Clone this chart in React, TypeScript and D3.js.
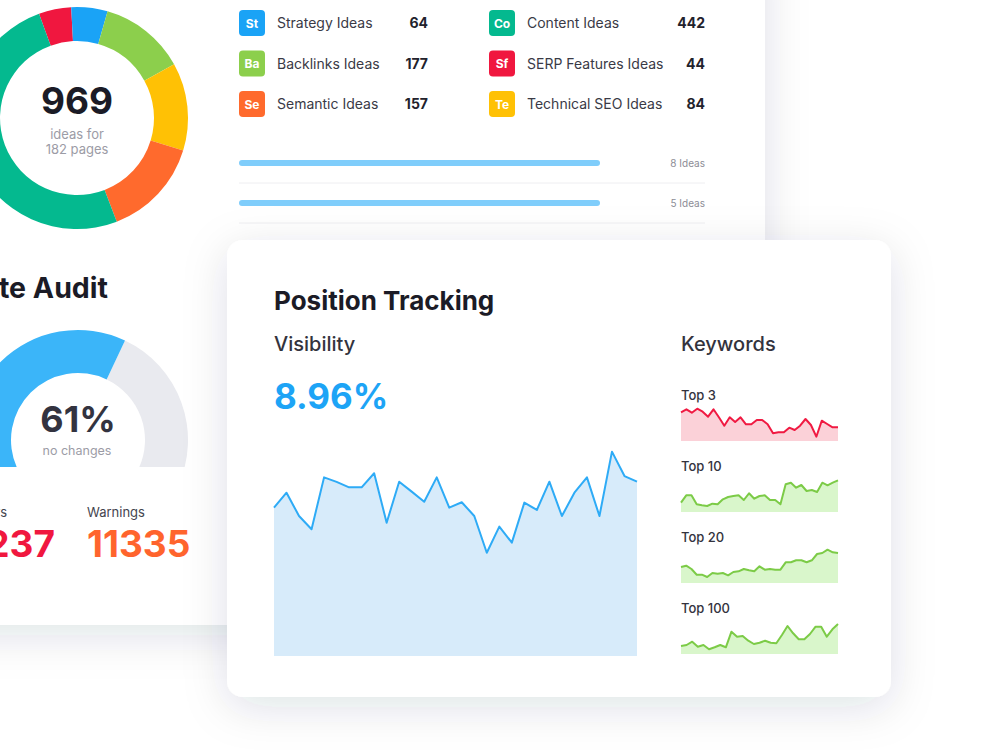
import * as d3 from 'd3';
import { useEffect, useRef } from 'react';

const W = 1000;
const H = 750;
const FONT = 'Inter, "Noto Sans", sans-serif';

// idea categories (legend)
const ideaCodes = ['St', 'Ba', 'Se', 'Co', 'Sf', 'Te'];
const ideaNames = [
  'Strategy Ideas',
  'Backlinks Ideas',
  'Semantic Ideas',
  'Content Ideas',
  'SERP Features Ideas',
  'Technical SEO Ideas',
];
const ideaCounts = [64, 177, 157, 442, 44, 84];
const ideaColors = ['#1aa3f6', '#8ccf4c', '#ff6a2d', '#04b98f', '#f0173f', '#ffc105'];

// donut ring, clockwise from the red slice, shares
const ringCodes = ['Sf', 'St', 'Ba', 'Te', 'Se', 'Co'];
const ringShare = [17, 19, 45, 46, 52, 181];
const totalIdeas = '969';
const totalPages = '182 pages';

// page rows
const barLabels = ['8 Ideas', '5 Ideas'];
const barProgress = [100, 100];

// site audit
const auditScore = 61;
const auditLabels = ['Errors', 'Warnings'];
const auditValues = ['1237', '11335'];
const auditColors = ['#f0173f', '#ff642d'];

// position tracking visibility (%)
const visibilityNow = '8.96%';
const visibility = [
  6.87, 7.56, 6.48, 5.87, 8.27, 8.06, 7.81, 7.81, 8.46, 6.17, 8.07, 7.61, 7.14, 8.27, 6.87,
  7.12, 6.48, 4.78, 5.99, 5.25, 7.1, 6.76, 8.07, 6.48, 7.56, 8.27, 6.48, 9.46, 8.33, 8.07,
];

// keyword sparklines
const topLabels = ['Top 3', 'Top 10', 'Top 20', 'Top 100'];
const top3 = [
  28.7, 31.7, 28.3, 32.3, 29.3, 24.3, 31.7, 23.7, 15.3, 23.7, 19, 23.7, 16.7, 16.7, 21, 21,
  16.7, 7.7, 8.7, 8.7, 13.3, 11, 15.3, 22, 16, 4.3, 20.3, 17, 13.7, 13.7,
];
const top10 = [
  9.3, 16.7, 16.7, 7.7, 6.7, 6, 8.3, 7.7, 12.7, 15, 16, 16.7, 12, 18.7, 13.3, 16, 16.7, 12,
  12, 7.7, 27.7, 29.3, 24.3, 27, 21, 22, 20, 29.3, 26.7, 29.3, 31.7,
];
const top20 = [
  16, 17.3, 14, 8.3, 8.3, 6, 10, 9.3, 10, 7.7, 11, 11.7, 14, 12.7, 11.7, 16.7, 13.3, 14, 13.3,
  13.3, 20.7, 20.7, 22.7, 22.7, 20.7, 22.7, 29, 30, 33.3, 30.7, 30,
];
const top100 = [
  8, 9, 12.3, 7.3, 9, 4.7, 6.7, 9, 6.7, 22.3, 17.3, 18, 13.3, 10, 11.3, 13.3, 11.3, 10.7, 19,
  28, 20.7, 14.7, 14.7, 20, 27.3, 27.3, 17.3, 24.7, 30,
];
const topSeries = [top3, top10, top20, top100];
const topLine = ['#f01a42', '#7ccb47', '#7ccb47', '#7ccb47'];
const topFill = ['#fbd1d8', '#d9f6cb', '#d9f6cb', '#d9f6cb'];

export default function App() {
  const svgRef = useRef<SVGSVGElement>(null);

  useEffect(() => {
    if (!svgRef.current) return;
    const svg = d3.select(svgRef.current);
    svg.selectAll('*').remove();

    svg.append('rect').attr('width', W).attr('height', H).attr('fill', '#ffffff');

    const defs = svg.append('defs');
    const shadow = defs
      .append('filter')
      .attr('id', 'cardShadow')
      .attr('x', '-30%')
      .attr('y', '-30%')
      .attr('width', '160%')
      .attr('height', '160%');
    shadow
      .append('feDropShadow')
      .attr('dx', 0)
      .attr('dy', 10)
      .attr('stdDeviation', 22)
      .attr('flood-color', '#1c2340')
      .attr('flood-opacity', 0.13);

    // back card
    svg
      .append('rect')
      .attr('x', -60)
      .attr('y', -60)
      .attr('width', 825)
      .attr('height', 685)
      .attr('rx', 16)
      .attr('fill', '#fff')
      .attr('filter', 'url(#cardShadow)');

    // ---- donut
    const byCode = new Map(ideaCodes.map((c, i) => [c, ideaColors[i]]));
    const pie = d3
      .pie<number>()
      .sort(null)
      .startAngle((-20 * Math.PI) / 180)
      .endAngle((340 * Math.PI) / 180);
    const arc = d3.arc<d3.PieArcDatum<number>>().innerRadius(77).outerRadius(111);
    const donut = svg.append('g').attr('transform', 'translate(77,118)');
    donut
      .selectAll('path')
      .data(pie(ringShare))
      .join('path')
      .attr('d', arc)
      .attr('fill', (_, i) => byCode.get(ringCodes[i]) as string);
    donut
      .append('text')
      .attr('text-anchor', 'middle')
      .attr('y', -4)
      .style('font', `700 37px ${FONT}`)
      .attr('fill', '#1b1b26')
      .text(totalIdeas);
    donut
      .append('text')
      .attr('text-anchor', 'middle')
      .attr('y', 21)
      .style('font', `400 13px ${FONT}`)
      .attr('fill', '#9c9ca6')
      .text('ideas for');
    donut
      .append('text')
      .attr('text-anchor', 'middle')
      .attr('y', 36)
      .style('font', `400 13px ${FONT}`)
      .attr('fill', '#9c9ca6')
      .text(totalPages);

    // ---- legend grid
    const colX = d3.scaleOrdinal<number, number>().domain([0, 1]).range([239, 489]);
    const rowY = d3.scalePoint<number>().domain([0, 1, 2]).range([23, 104]);
    const legend = svg
      .append('g')
      .selectAll('g')
      .data(ideaCodes)
      .join('g')
      .attr('transform', (_, i) => `translate(${colX(Math.floor(i / 3))},${rowY(i % 3)})`);
    legend
      .append('rect')
      .attr('y', -13)
      .attr('width', 26)
      .attr('height', 26)
      .attr('rx', 4)
      .attr('fill', (_, i) => ideaColors[i]);
    legend
      .append('text')
      .attr('x', 13)
      .attr('y', 4.5)
      .attr('text-anchor', 'middle')
      .style('font', `700 12px ${FONT}`)
      .attr('fill', '#fff')
      .text((d) => d);
    legend
      .append('text')
      .attr('x', 38)
      .attr('y', 5)
      .style('font', `400 14px ${FONT}`)
      .attr('fill', '#3a3a46')
      .text((_, i) => ideaNames[i]);
    legend
      .append('text')
      .attr('x', (_, i) => (i < 3 ? 189 : 216))
      .attr('y', 5)
      .attr('text-anchor', 'end')
      .style('font', `700 14px ${FONT}`)
      .attr('fill', '#22222c')
      .text((_, i) => ideaCounts[i]);

    // ---- idea bars
    const barX = d3.scaleLinear().domain([0, 100]).range([239, 600]);
    const barY = d3.scalePoint<number>().domain([0, 1]).range([163, 203]);
    const bars = svg
      .append('g')
      .selectAll('g')
      .data(barProgress)
      .join('g')
      .attr('transform', (_, i) => `translate(0,${barY(i)})`);
    bars
      .append('line')
      .attr('x1', barX(0) + 3)
      .attr('x2', (d) => barX(d) - 3)
      .attr('stroke', '#7fcdfb')
      .attr('stroke-width', 6)
      .attr('stroke-linecap', 'round');
    bars
      .append('line')
      .attr('x1', 239)
      .attr('x2', 705)
      .attr('y1', 20)
      .attr('y2', 20)
      .attr('stroke', '#eeeef1')
      .attr('stroke-width', 1);
    bars
      .append('text')
      .attr('x', 705)
      .attr('y', 4)
      .attr('text-anchor', 'end')
      .style('font', `400 10px ${FONT}`)
      .attr('fill', '#8c8c96')
      .text((_, i) => barLabels[i]);

    // ---- site audit
    svg
      .append('text')
      .attr('x', 108)
      .attr('y', 298)
      .attr('text-anchor', 'end')
      .style('font', `700 28.5px ${FONT}`)
      .attr('fill', '#1b1b26')
      .text('Site Audit');

    defs
      .append('clipPath')
      .attr('id', 'gaugeClip')
      .append('rect')
      .attr('x', -100)
      .attr('y', 300)
      .attr('width', 400)
      .attr('height', 167);
    const gaugeAngle = d3
      .scaleLinear()
      .domain([0, 100])
      .range([(-115 * Math.PI) / 180, (115 * Math.PI) / 180]);
    const gArc = d3.arc();
    const gauge = svg.append('g').attr('clip-path', 'url(#gaugeClip)');
    const gg = gauge.append('g').attr('transform', 'translate(78,440)');
    gg.append('path')
      .attr(
        'd',
        gArc({ innerRadius: 67, outerRadius: 110, startAngle: gaugeAngle(auditScore), endAngle: gaugeAngle(100) }) as string
      )
      .attr('fill', '#e9eaef');
    gg.append('path')
      .attr(
        'd',
        gArc({ innerRadius: 67, outerRadius: 110, startAngle: gaugeAngle(0), endAngle: gaugeAngle(auditScore) }) as string
      )
      .attr('fill', '#3bb5f9');
    svg
      .append('text')
      .attr('x', 78)
      .attr('y', 432)
      .attr('text-anchor', 'middle')
      .style('font', `700 36px ${FONT}`)
      .attr('fill', '#333340')
      .text(`${auditScore}%`);
    svg
      .append('text')
      .attr('x', 77)
      .attr('y', 455)
      .attr('text-anchor', 'middle')
      .style('font', `400 12.5px ${FONT}`)
      .attr('fill', '#9c9ca6')
      .text('no changes');

    const auditX = [55, 87];
    const auditAnchor = ['end', 'start'];
    auditLabels.forEach((label, i) => {
      svg
        .append('text')
        .attr('x', i === 0 ? 7 : auditX[i])
        .attr('y', 517)
        .attr('text-anchor', auditAnchor[i])
        .style('font', `400 13px ${FONT}`)
        .attr('fill', '#44444e')
        .text(label);
      svg
        .append('text')
        .attr('x', auditX[i])
        .attr('y', 557)
        .attr('text-anchor', auditAnchor[i])
        .style('font', `700 37px ${FONT}`)
        .attr('fill', auditColors[i])
        .text(auditValues[i]);
    });

    // ---- position tracking card
    svg
      .append('rect')
      .attr('x', 227)
      .attr('y', 240)
      .attr('width', 664)
      .attr('height', 457)
      .attr('rx', 16)
      .attr('fill', '#fff')
      .attr('filter', 'url(#cardShadow)');
    svg
      .append('text')
      .attr('x', 274)
      .attr('y', 310)
      .style('font', `700 26px ${FONT}`)
      .attr('fill', '#1b1b26')
      .text('Position Tracking');
    svg
      .append('text')
      .attr('x', 274)
      .attr('y', 351)
      .style('font', `500 20px ${FONT}`)
      .attr('fill', '#33333d')
      .text('Visibility');
    svg
      .append('text')
      .attr('x', 274)
      .attr('y', 409)
      .style('font', `700 35px ${FONT}`)
      .attr('fill', '#1da4f6')
      .text(visibilityNow);
    svg
      .append('text')
      .attr('x', 681)
      .attr('y', 351)
      .style('font', `500 20px ${FONT}`)
      .attr('fill', '#33333d')
      .text('Keywords');

    const vx = d3
      .scaleLinear()
      .domain([0, visibility.length - 1])
      .range([274, 637]);
    const vy = d3.scaleLinear().domain([0, 10]).range([656, 440]);
    svg
      .append('path')
      .datum(visibility)
      .attr(
        'd',
        d3
          .area<number>()
          .x((_, i) => vx(i))
          .y0(vy(0))
          .y1((d) => vy(d))
      )
      .attr('fill', '#d7ebfa');
    svg
      .append('path')
      .datum(visibility)
      .attr(
        'd',
        d3
          .line<number>()
          .x((_, i) => vx(i))
          .y((d) => vy(d))
      )
      .attr('fill', 'none')
      .attr('stroke', '#2eabf6')
      .attr('stroke-width', 2)
      .attr('stroke-linejoin', 'round');

    // sparklines
    const spY = d3.scalePoint<number>().domain([0, 1, 2, 3]).range([441, 654]);
    topSeries.forEach((series, k) => {
      const base = spY(k) as number;
      const sx = d3
        .scaleLinear()
        .domain([0, series.length - 1])
        .range([681, 838]);
      const sy = d3.scaleLinear().domain([0, 40]).range([base, base - 40]);
      svg
        .append('text')
        .attr('x', 681)
        .attr('y', base - 41)
        .style('font', `500 13px ${FONT}`)
        .attr('fill', '#33333d')
        .text(topLabels[k]);
      svg
        .append('path')
        .datum(series)
        .attr(
          'd',
          d3
            .area<number>()
            .x((_, i) => sx(i))
            .y0(sy(0))
            .y1((d) => sy(d))
        )
        .attr('fill', topFill[k]);
      svg
        .append('path')
        .datum(series)
        .attr(
          'd',
          d3
            .line<number>()
            .x((_, i) => sx(i))
            .y((d) => sy(d))
        )
        .attr('fill', 'none')
        .attr('stroke', topLine[k])
        .attr('stroke-width', 2)
        .attr('stroke-linejoin', 'round');
    });
  }, []);

  return (
    <svg
      ref={svgRef}
      width={W}
      height={H}
      viewBox={`0 0 ${W} ${H}`}
      style={{ position: 'absolute', left: 0, top: 0, display: 'block' }}
    />
  );
}
